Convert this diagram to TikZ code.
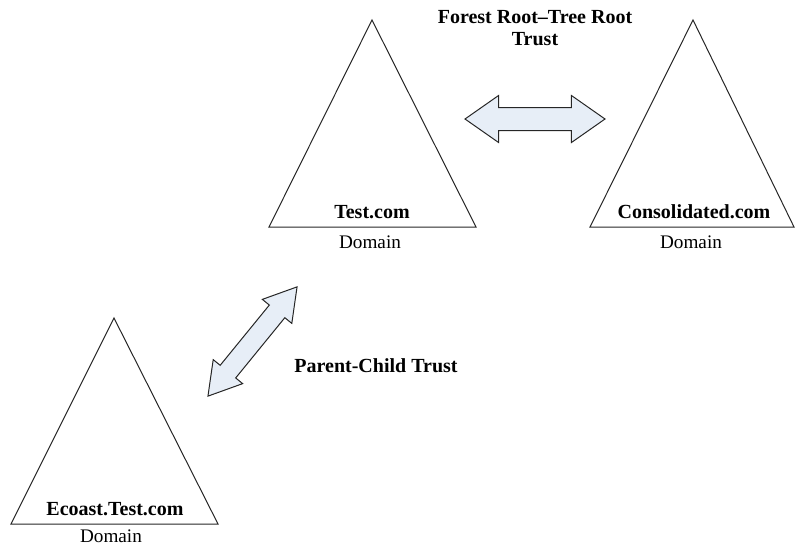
\documentclass[tikz,border=0pt]{standalone}
\usepackage{fontspec}
\setmainfont{Liberation Serif}
\usetikzlibrary{shapes.arrows}
\definecolor{trustfill}{RGB}{231,238,247}

\begin{document}
\begin{tikzpicture}[x=0.5pt, y=-0.5pt,
    tree/.style={draw=black!85, line width=0.5pt, line join=miter},
    trustarrow/.style={shape=double arrow, draw=black!85, fill=trustfill,
        line width=0.5pt, inner xsep=0pt},
    dname/.style={font=\bfseries\fontsize{10}{12}\selectfont, anchor=base},
    dtype/.style={font=\fontsize{9.6}{12}\selectfont, anchor=base},
    trustlabel/.style={font=\bfseries\fontsize{10}{11}\selectfont, align=center}]
    \useasboundingbox (0,0) rectangle (795,546);

    % Domain Test.com
    \draw[tree] (372,20) -- (476,227) -- (269,227) -- cycle;
    \node[dname] (test) at (372,218) {Test.com};
    \node[dtype] (testdom) at (370,248) {Domain};

    % Domain Consolidated.com
    \draw[tree] (693,20) -- (794,227) -- (590,227) -- cycle;
    \node[dname] (cons) at (694,218) {Consolidated.com};
    \node[dtype] (consdom) at (691,248) {Domain};

    % Domain Ecoast.Test.com
    \draw[tree] (114,318) -- (218,524) -- (11,524) -- cycle;
    \node[dname] (ecoast) at (115,515) {Ecoast.Test.com};
    \node[dtype] (ecoastdom) at (111,542) {Domain};

    % Trusts
    \node[trustarrow, minimum height=70pt, inner ysep=5.5pt,
        double arrow head extend=6pt, double arrow tip angle=70]
        (forestarrow) at (535,119) {};
    \node[trustlabel] (forest) at (535,28) {Forest Root–Tree Root\\Trust};

    \node[trustarrow, minimum height=70.5pt, inner ysep=4.75pt,
        double arrow head extend=4.5pt, double arrow tip angle=62, rotate=50.8]
        (childarrow) at (252.5,341.5) {};
    \node[dname] (child) at (376,372) {Parent-Child Trust};
\end{tikzpicture}
\end{document}
